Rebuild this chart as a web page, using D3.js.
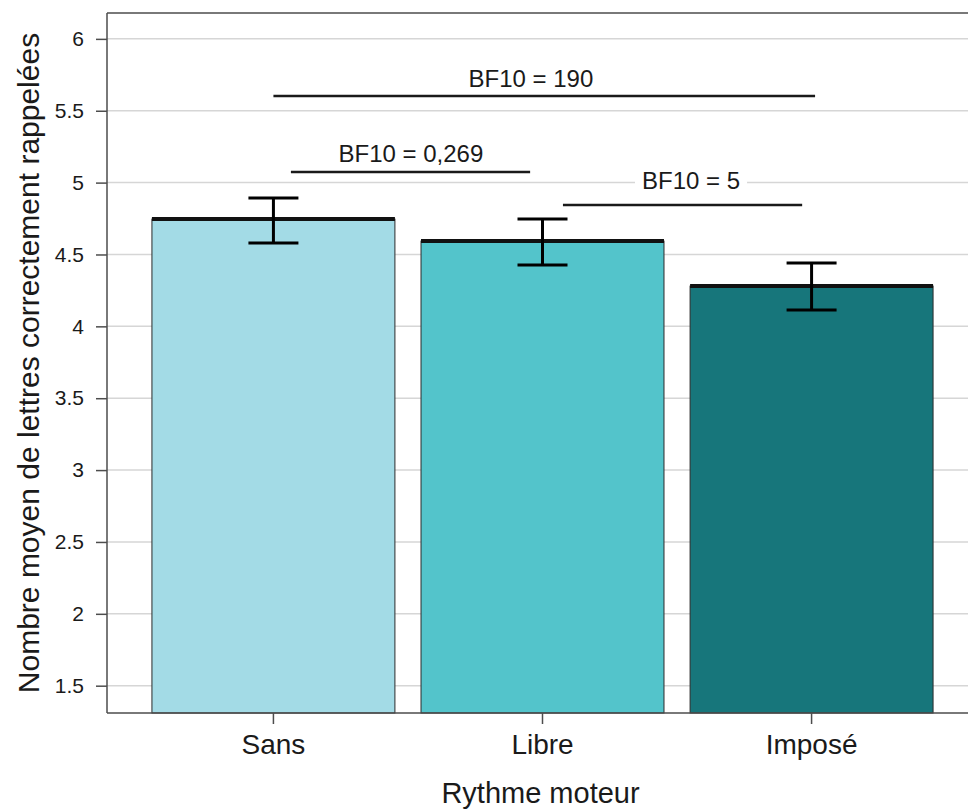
<!DOCTYPE html>
<html>
<head>
<meta charset="utf-8">
<script src="https://cdn.jsdelivr.net/npm/d3@7"></script>
<style>
  html, body { margin: 0; padding: 0; background: #fff; }
  svg { display: block; font-family: "Liberation Sans", Arial, sans-serif; }
</style>
</head>
<body>
<svg id="chart" width="968" height="809"></svg>
<script>
// ---- data ----
const categories = ["Sans", "Libre", "Imposé"];
const means = [4.746, 4.593, 4.28];
const errLow = [4.579, 4.426, 4.113];
const errHigh = [4.893, 4.747, 4.44];
const barColors = ["#a3dbe6", "#53c4cb", "#17767b"];
const yTickValues = [1.5, 2, 2.5, 3, 3.5, 4, 4.5, 5, 5.5, 6];
const yTickLabels = ["1.5", "2", "2.5", "3", "3.5", "4", "4.5", "5", "5.5", "6"];
const xTitle = "Rythme moteur";
const yTitle = "Nombre moyen de lettres correctement rappelées";

// Bayes factor annotations (positions in category-index units / y-axis units)
const bfLabels = ["BF10 = 190", "BF10 = 0,269", "BF10 = 5"];
const bfLineY = [5.603, 5.074, 4.844];
const bfTextY = [5.666, 5.143, 4.955];
const bfStart = [0, 0.065, 1.076];
const bfEnd = [2.013, 0.954, 1.965];
const bfTextX = [0.957, 0.511, 1.552];

// ---- layout ----
const svg = d3.select("#chart");
const panel = { left: 107, top: 13, right: 978, bottom: 713 };

const x = d3.scaleBand()
  .domain(categories)
  .range([panel.left, panel.right])
  .paddingInner(0.097)
  .paddingOuter(0.167);

const y = d3.scaleLinear()
  .domain([1.31, 6.18])
  .range([panel.bottom, panel.top]);

// category index -> pixel centre
const xi = d3.scaleLinear()
  .domain([0, 1])
  .range([x(categories[0]) + x.bandwidth() / 2, x(categories[1]) + x.bandwidth() / 2]);

const textColor = "#1a1a1a";

// gridlines
svg.append("g")
  .selectAll("line")
  .data(yTickValues)
  .join("line")
  .attr("x1", panel.left)
  .attr("x2", 968)
  .attr("y1", d => y(d))
  .attr("y2", d => y(d))
  .attr("stroke", "#d6d6d6")
  .attr("stroke-width", 1.5);

// bars
const bars = svg.append("g");
bars.selectAll("rect")
  .data(categories)
  .join("rect")
  .attr("x", d => x(d))
  .attr("width", x.bandwidth())
  .attr("y", (d, i) => y(means[i]))
  .attr("height", (d, i) => panel.bottom - y(means[i]))
  .attr("fill", (d, i) => barColors[i])
  .attr("stroke", "#2b2b2b")
  .attr("stroke-width", 1);

// mean crossbar (thick top)
bars.selectAll("line.mean")
  .data(categories)
  .join("line")
  .attr("class", "mean")
  .attr("x1", d => x(d))
  .attr("x2", d => x(d) + x.bandwidth())
  .attr("y1", (d, i) => y(means[i]))
  .attr("y2", (d, i) => y(means[i]))
  .attr("stroke", "#111")
  .attr("stroke-width", 4);

// error bars
const eb = svg.append("g").attr("stroke", "#000").attr("stroke-width", 3).attr("fill", "none");
const capHalf = 25;
categories.forEach((c, i) => {
  const cx = x(c) + x.bandwidth() / 2;
  eb.append("line").attr("x1", cx).attr("x2", cx).attr("y1", y(errLow[i])).attr("y2", y(errHigh[i]));
  eb.append("line").attr("x1", cx - capHalf).attr("x2", cx + capHalf).attr("y1", y(errLow[i])).attr("y2", y(errLow[i]));
  eb.append("line").attr("x1", cx - capHalf).attr("x2", cx + capHalf).attr("y1", y(errHigh[i])).attr("y2", y(errHigh[i]));
});

// panel border (top, bottom)
svg.append("line").attr("x1", panel.left).attr("x2", 968).attr("y1", panel.top).attr("y2", panel.top)
  .attr("stroke", "#4d4d4d").attr("stroke-width", 1.5);
svg.append("line").attr("x1", panel.left).attr("x2", 968).attr("y1", panel.bottom).attr("y2", panel.bottom)
  .attr("stroke", "#4d4d4d").attr("stroke-width", 1.5);

// y axis
const yAxis = d3.axisLeft(y)
  .tickValues(yTickValues)
  .tickFormat((d, i) => yTickLabels[i])
  .tickSize(11)
  .tickPadding(12);
const gy = svg.append("g").attr("transform", `translate(${panel.left},0)`).call(yAxis);
gy.select(".domain").attr("d", `M0,${panel.top}V${panel.bottom}`).attr("stroke", "#4d4d4d").attr("stroke-width", 1.5);
gy.selectAll(".tick line").attr("stroke", "#4d4d4d").attr("stroke-width", 1.5);
gy.selectAll(".tick text").attr("fill", textColor).style("font-size", "21px")
  .style("font-family", "'Liberation Sans', Arial, sans-serif");

// x axis
const xAxis = d3.axisBottom(x).tickSize(11).tickPadding(10);
const gx = svg.append("g").attr("transform", `translate(0,${panel.bottom})`).call(xAxis);
gx.select(".domain").remove();
gx.selectAll(".tick line").attr("stroke", "#4d4d4d").attr("stroke-width", 1.5);
gx.selectAll(".tick text").attr("fill", textColor).style("font-size", "28px")
  .style("font-family", "'Liberation Sans', Arial, sans-serif");

// axis titles
svg.append("text")
  .attr("x", (panel.left + 968) / 2 + 3)
  .attr("y", 803)
  .attr("text-anchor", "middle")
  .attr("fill", textColor)
  .style("font-size", "29px")
  .text(xTitle);

svg.append("text")
  .attr("transform", `translate(39,${(panel.top + panel.bottom) / 2}) rotate(-90)`)
  .attr("text-anchor", "middle")
  .attr("fill", textColor)
  .style("font-size", "30px")
  .text(yTitle);

// BF annotations
const ann = svg.append("g");
bfLabels.forEach((lab, i) => {
  ann.append("line")
    .attr("x1", xi(bfStart[i])).attr("x2", xi(bfEnd[i]))
    .attr("y1", y(bfLineY[i])).attr("y2", y(bfLineY[i]))
    .attr("stroke", "#1a1a1a").attr("stroke-width", 2.5);
  const t = ann.append("text")
    .attr("x", xi(bfTextX[i]))
    .attr("y", y(bfTextY[i]))
    .attr("text-anchor", "middle")
    .attr("fill", textColor)
    .style("font-size", "24px")
    .text(lab);
  const bb = t.node().getBBox();
  ann.insert("rect", () => t.node())
    .attr("x", bb.x - 7).attr("y", bb.y)
    .attr("width", bb.width + 14).attr("height", bb.height)
    .attr("fill", "#fff");
});
</script>
</body>
</html>
